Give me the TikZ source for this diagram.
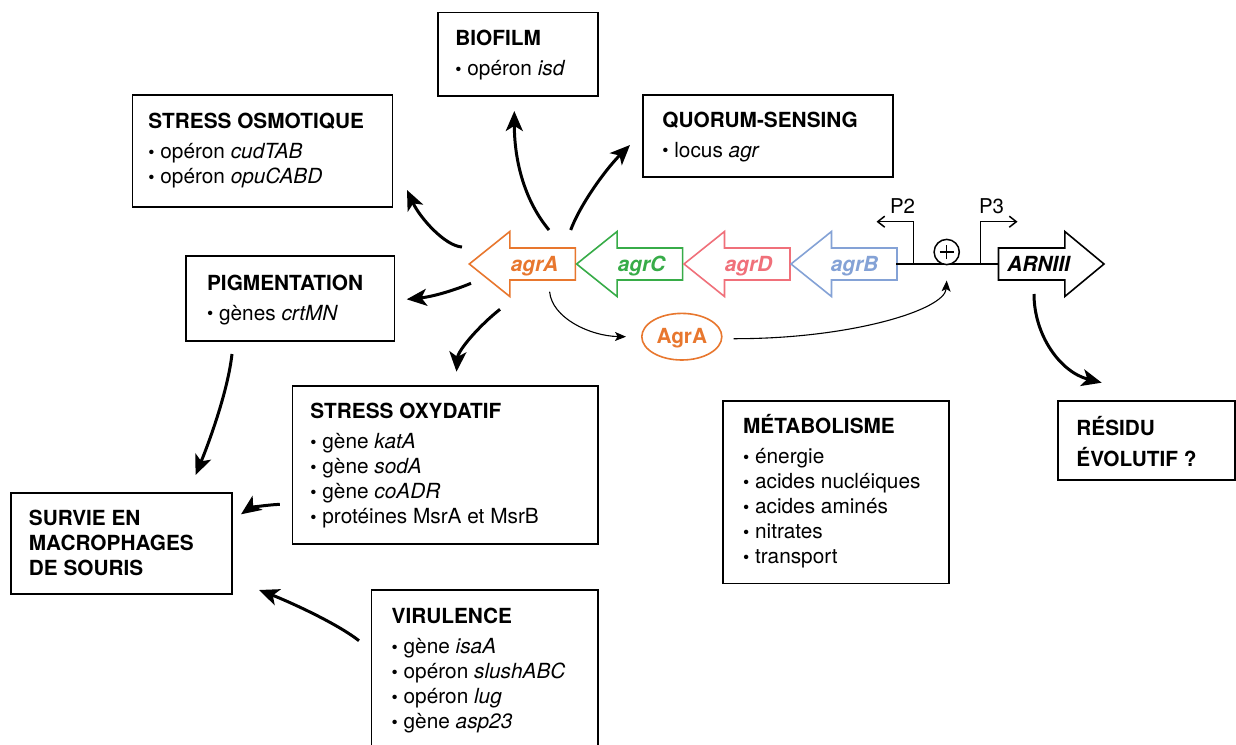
\documentclass[tikz,border=0pt]{standalone}
\usepackage{fontspec}
\setmainfont{TeX Gyre Heros}
\usetikzlibrary{arrows.meta,shapes.geometric}
\definecolor{cA}{RGB}{232,119,46}
\definecolor{cC}{RGB}{55,172,72}
\definecolor{cD}{RGB}{240,112,122}
\definecolor{cB}{RGB}{132,162,214}
\newcommand\tstrut{\rule{0pt}{10pt}}
\newcommand\itm{\raisebox{0.3pt}{\scalebox{0.85}{\textbullet}}\ }
\newcommand\GeneL[2]{\draw[gene,draw=#2] (#1,264) -- ++(40.5,-32.5) -- ++(0,16.5) -- ++(65.5,0) -- ++(0,32) -- ++(-65.5,0) -- ++(0,16.5) -- cycle;}
\begin{document}
\begin{tikzpicture}[x=0.5pt,y=-0.5pt,
  box/.style={draw, line width=0.8pt},
  txt/.style={align=left, inner sep=0pt, anchor=north west, font=\fontsize{10.4}{12.5}\selectfont},
  gtxt/.style={inner sep=0pt, anchor=base west, font=\fontsize{10.4}{12.5}\selectfont\bfseries\itshape},
  big/.style={line width=1.5pt, -{Stealth[length=10pt,width=8.5pt,inset=2.6pt]}},
  small/.style={line width=0.55pt, -{Stealth[length=5.5pt,width=4.5pt,inset=1.3pt]}},
  gene/.style={line width=0.8pt, fill=white},
  prom/.style={line width=0.75pt, -{Straight Barb[length=3.5pt,width=5.5pt]}},
]
\useasboundingbox (0,0) rectangle (1236,744);
\clip (0,0) rectangle (1236,744);
\fill[white] (0,0) rectangle (1236,744);

% ---- boxes ----
\draw[box] (132.4,95) rectangle (392.5,206.7);
\node[txt] (osmo) at (148,108.3) {\tstrut\textbf{STRESS OSMOTIQUE}\\[2.5pt]\itm opéron \textit{cudTAB}\\\itm opéron \textit{opuCABD}};

\draw[box] (438,12.3) rectangle (598,95.7);
\node[txt] (bio) at (455,25) {\tstrut\textbf{BIOFILM}\\[2.75pt]\itm opéron \textit{isd}};

\draw[box] (643,95) rectangle (893,176.7);
\node[txt] (quorum) at (662,106.7) {\tstrut\textbf{QUORUM-SENSING}\\[2.5pt]\itm locus \textit{agr}};

\draw[box] (186,255.7) rectangle (394.5,340.7);
\node[txt] (pigm) at (206.7,270) {\tstrut\textbf{PIGMENTATION}\\[2.5pt]\itm gènes \textit{crtMN}};

\draw[box] (292.5,385.7) rectangle (598,544);
\node[txt] (oxyd) at (310,398.3) {\tstrut\textbf{STRESS OXYDATIF}\\[2.5pt]\itm gène \textit{katA}\\\itm gène \textit{sodA}\\\itm gène \textit{coADR}\\\itm protéines MsrA et MsrB};

\draw[box] (10.7,492.7) rectangle (232,594);
\node[txt] (survie) at (28.5,505) {\tstrut\textbf{SURVIE EN}\\\textbf{MACROPHAGES}\\\textbf{DE SOURIS}};

\draw[box] (371.5,590) rectangle (598,760);
\node[txt] (viru) at (391.3,603.3) {\tstrut\textbf{VIRULENCE}\\[2.5pt]\itm gène \textit{isaA}\\\itm opéron \textit{slushABC}\\\itm opéron \textit{lug}\\\itm gène \textit{asp23}};

\draw[box] (723,400.7) rectangle (949,583.3);
\node[txt] (metab) at (742.7,413.3) {\tstrut\textbf{MÉTABOLISME}\\[2.5pt]\itm énergie\\\itm acides nucléiques\\\itm acides aminés\\\itm nitrates\\\itm transport};

\draw[box] (1058,401) rectangle (1235,480);
\node[txt] (resid) at (1076,415) {\tstrut\textbf{RÉSIDU}\\[3.25pt]\textbf{ÉVOLUTIF ?}};

% ---- genes ----
\GeneL{469.3}{cA}
\GeneL{576.6}{cC}
\GeneL{684}{cD}
\GeneL{791}{cB}
\node[gtxt, text=cA] (agrA) at (510.5,271.5) {agrA};
\node[gtxt, text=cC] (agrC) at (617.5,271.5) {agrC};
\node[gtxt, text=cD] (agrD) at (724.5,271.5) {agrD};
\node[gtxt, text=cB] (agrB) at (830.5,271.5) {agrB};

\coordinate (dnaL) at (896,264);
\coordinate (dnaR) at (998.5,264);
\draw[line width=0.8pt] (dnaL) -- (dnaR);
\draw[gene, draw=black] (998.5,248) -- (1064.8,248) -- (1064.8,231.5) -- (1104,264) -- (1064.8,296.5) -- (1064.8,280) -- (998.5,280) -- cycle;
\node[gtxt] (arn) at (1007,271.5) {ARNIII};

% promoters
\coordinate (p2b) at (913.3,264);
\coordinate (p2t) at (913.3,221.7);
\coordinate (p2e) at (876.5,221.7);
\coordinate (p3b) at (980.3,264);
\coordinate (p3t) at (980.3,221.7);
\coordinate (p3e) at (1017.5,221.7);
\draw[prom] (p2b) -- (p2t) -- (p2e);
\draw[prom] (p3b) -- (p3t) -- (p3e);
\node[inner sep=0pt, anchor=base, font=\fontsize{10.2}{12}\selectfont] (P2) at (902.5,213.3) {P2};
\node[inner sep=0pt, anchor=base, font=\fontsize{10.2}{12}\selectfont] (P3) at (991.5,213.3) {P3};

\node[circle, draw, line width=0.75pt, fill=white, minimum size=12.6pt, inner sep=0pt] (plus) at (946.7,252) {};
\draw[line width=0.6pt] ([xshift=-3.6pt]plus.center) -- ([xshift=3.6pt]plus.center);
\draw[line width=0.6pt] ([yshift=-3.6pt]plus.center) -- ([yshift=3.6pt]plus.center);

% AgrA protein
\node[ellipse, draw=cA, line width=0.8pt, minimum width=40pt, minimum height=23.3pt, inner sep=0pt] (prot) at (681.8,336.7) {};
\node[inner sep=0pt, anchor=base, text=cA, font=\fontsize{10.4}{12.5}\selectfont\bfseries] (protl) at (681.8,343.3) {AgrA};

% ---- thin arrows ----
\coordinate (t1s) at (549.6,291.7);
\coordinate (t1e) at (626,336.7);
\draw[small] (t1s) .. controls (552,318) and (590,336) .. (t1e);
\coordinate (t2s) at (733.6,338.7);
\coordinate (t2e) at (946.7,280.5);
\draw[small] (t2s) .. controls (850,339) and (945,310) .. (t2e);

% ---- thick arrows ----
\coordinate (a1s) at (462,247);  \coordinate (a1e) at (407,190);
\draw[big] (a1s) .. controls (445,246) and (420,218) .. (a1e);
\coordinate (a2s) at (549,230);  \coordinate (a2e) at (514.3,111);
\draw[big] (a2s) .. controls (520,195) and (514.3,151) .. (a2e);
\coordinate (a3s) at (570.7,230); \coordinate (a3e) at (630,145);
\draw[big] (a3s) .. controls (580,205) and (605,170) .. (a3e);
\coordinate (a4s) at (471,283.3); \coordinate (a4e) at (406.7,299.3);
\draw[big] (a4s) .. controls (450,292) and (430,297) .. (a4e);
\coordinate (a5s) at (500,309.3); \coordinate (a5e) at (456.5,371.7);
\draw[big] (a5s) .. controls (480,325) and (458,350) .. (a5e);
\coordinate (a6s) at (232,354);  \coordinate (a6e) at (195.6,475);
\draw[big] (a6s) .. controls (228,390) and (210,440) .. (a6e);
\coordinate (a7s) at (279.8,504.3); \coordinate (a7e) at (241,514.3);
\draw[big] (a7s) .. controls (265,505) and (250,508) .. (a7e);
\coordinate (a8s) at (359,640.7); \coordinate (a8e) at (259,590);
\draw[big] (a8s) .. controls (335,622) and (285,600) .. (a8e);
\coordinate (a9s) at (1034,294); \coordinate (a9e) at (1101.7,382.7);
\draw[big] (a9s) .. controls (1034,335) and (1060,372) .. (a9e);
\end{tikzpicture}
\end{document}
